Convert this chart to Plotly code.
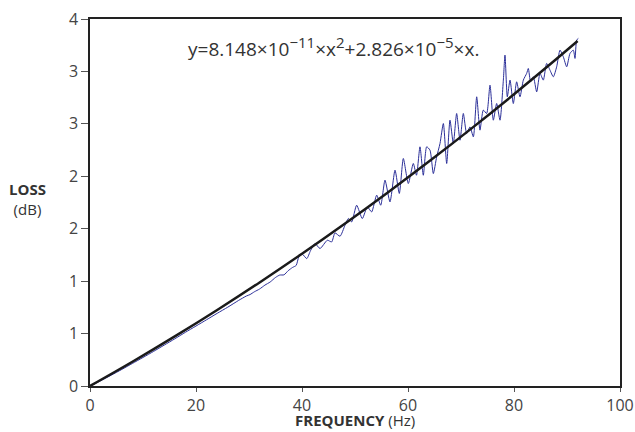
import plotly.graph_objects as go

# fitted curve, read at a few frequencies (Hz axis is x1000 in the equation)
fit_freq = [0, 8, 16, 24, 32, 40, 48, 56, 64, 72, 80, 88, 92]
fit_loss = [0, 0.2313, 0.4730, 0.7252, 0.9878, 1.2608, 1.5442, 1.8381,
            2.1424, 2.4571, 2.7823, 3.1179, 3.2895]

# measured loss
meas_freq = [0, 2, 4, 6, 8, 10, 12, 14, 16, 18, 20, 22, 24, 26, 28, 29.5,
             30.2, 31, 32, 33, 34, 35, 35.8, 36.6, 37.4, 38.2, 38.9, 39.4,
             40.0, 40.9, 41.6, 42.45, 43.4, 44.78, 45.6, 46.23, 47.17, 48.11,
             48.74, 49.37, 50.31, 51.38, 52.33, 53.14, 54.09, 54.85, 55.66,
             56.6, 57.55, 58.36, 59.12, 60.06, 61.0, 61.6, 62.26, 62.89,
             63.52, 64.15, 64.78, 65.41, 66.04, 66.67, 67.3, 67.92, 68.55,
             69.18, 69.81, 70.44, 71.07, 71.7, 72.33, 72.96, 73.58, 74.21,
             74.84, 75.47, 76.1, 76.73, 77.36, 77.99, 78.3, 78.74, 79.25,
             79.87, 80.5, 81.13, 81.76, 82.39, 82.7, 83.14, 83.65, 84.28,
             84.91, 85.53, 86.16, 86.79, 87.42, 88.05, 88.68, 89.31, 89.94,
             90.57, 91.19, 91.51, 91.82, 92.14]
meas_loss = [0, 0.05, 0.103, 0.158, 0.215, 0.272, 0.33, 0.39, 0.45, 0.512,
             0.572, 0.632, 0.693, 0.752, 0.815, 0.858, 0.872, 0.898, 0.925,
             0.962, 0.992, 1.035, 1.058, 1.06, 1.10, 1.13, 1.15, 1.232,
             1.26, 1.215, 1.29, 1.358, 1.311, 1.39, 1.374, 1.46, 1.428, 1.533,
             1.597, 1.565, 1.724, 1.597, 1.708, 1.66, 1.82, 1.724, 1.963,
             1.756, 2.058, 1.836, 2.17, 1.931, 2.122, 2.01, 2.281, 2.01,
             2.281, 2.249, 2.026, 2.185, 2.313, 2.503, 2.122, 2.535, 2.313,
             2.599, 2.344, 2.599, 2.408, 2.471, 2.376, 2.758, 2.44, 2.631,
             2.599, 2.869, 2.535, 2.694, 2.535, 2.917, 3.156, 2.758, 2.917,
             2.694, 2.901, 2.758, 2.917, 2.981, 3.028, 2.901, 2.949, 2.805,
             2.981, 2.917, 3.076, 3.012, 2.949, 3.044, 3.203, 3.139, 3.044,
             3.172, 3.203, 3.124, 3.299, 3.315]

y_ticks = [0, 0.5, 1, 1.5, 2, 2.5, 3, 3.5]
y_tick_text = ['0', '1', '1', '2', '2', '3', '3', '4']
x_ticks = [0, 20, 40, 60, 80, 100]

fig = go.Figure()
fig.add_trace(go.Scatter(x=meas_freq, y=meas_loss, mode='lines',
                         line=dict(color='#2b2f99', width=1, shape='spline', smoothing=0.6),
                         showlegend=False))
fig.add_trace(go.Scatter(x=fit_freq, y=fit_loss, mode='lines',
                         line=dict(color='#1a1a1a', width=2.5, shape='spline'),
                         showlegend=False))

axis_font = dict(family='Open Sans', size=16, color='#444')
fig.update_xaxes(range=[0, 100], tickvals=x_ticks, ticks='outside', ticklen=4,
                 tickwidth=1, tickcolor='#555', showline=True, linecolor='#222',
                 linewidth=1.5, mirror=True, showgrid=False, zeroline=False,
                 tickfont=axis_font, automargin=False, ticklabeloverflow='allow')
fig.update_yaxes(range=[0, 3.5], tickvals=y_ticks, ticktext=y_tick_text,
                 ticks='outside', ticklen=7, tickwidth=1, tickcolor='#555',
                 showline=True, linecolor='#222', linewidth=1.5, mirror=True,
                 showgrid=False, zeroline=False, tickfont=axis_font,
                 automargin=False, ticklabeloverflow='allow')

fig.add_annotation(x=0.5, y=-0.093, xref='paper', yref='paper', showarrow=False,
                   text='<b>FREQUENCY</b> (Hz)', xanchor='center', yanchor='middle',
                   font=dict(family='Open Sans', size=15, color='#333'))
fig.add_annotation(x=-0.117, y=0.51, xref='paper', yref='paper', showarrow=False,
                   text='<b>LOSS</b><br>(dB)', align='center',
                   xanchor='center', yanchor='middle',
                   font=dict(family='Open Sans', size=15, color='#333'))
sup = "<sup><span style='font-size:15px'>%s</span></sup>"
eq_text = ('y=8.148×10' + sup % '−11' + '×x' + sup % '2' + '+2.826×10'
           + sup % '−5' + '×x.')
fig.add_annotation(x=0.46, y=0.925, xref='paper', yref='paper', showarrow=False,
                   text=eq_text, xanchor='center', yanchor='middle',
                   font=dict(family='Open Sans', size=19, color='#333'))

fig.update_layout(width=635, height=432, margin=dict(l=90, r=15, t=19, b=46),
                  plot_bgcolor='white', paper_bgcolor='white')
# drop the default page margin so the figure sits at the window's corner
fig.write_html("out.html", config={'displayModeBar': False},
               post_script="document.body.style.margin='0';")
